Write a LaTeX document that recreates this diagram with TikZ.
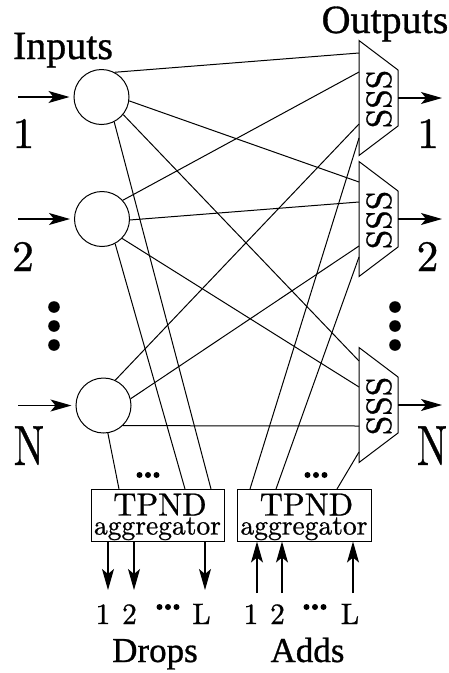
\documentclass[tikz,border=0pt]{standalone}
\usepackage{fontspec}
\newfontfamily\timesf[FakeBold=0.8]{Liberation Serif}
\newfontfamily\cmten[Extension=.otf,FakeBold=0.8]{lmroman10-regular}
\usetikzlibrary{arrows.meta}
\begin{document}
\begin{tikzpicture}[x=1pt,y=-1pt,
  wire/.style={line width=1pt},
  arr/.style={line width=1.2pt,-{Stealth[length=21pt,width=12pt,inset=5pt]}},
  circ/.style={circle,draw,line width=1pt,minimum size=55pt,inner sep=0pt},
  aggbox/.style={draw,line width=1pt,minimum height=52pt,inner sep=0pt},
  bigtitle/.style={font=\timesf\fontsize{40}{44}\selectfont,anchor=base,inner sep=0pt},
  subtitle/.style={font=\timesf\fontsize{35}{40}\selectfont,anchor=base,inner sep=0pt},
  sidelabel/.style={font=\cmten\fontsize{43.5}{48}\selectfont,anchor=base,inner sep=0pt},
  botlabel/.style={font=\cmten\fontsize{29.5}{33}\selectfont,anchor=base,inner sep=0pt},
  ssslabel/.style={font=\cmten\fontsize{35}{40}\selectfont,rotate=90,inner sep=0pt},
  tpnd/.style={font=\cmten\fontsize{32}{36}\selectfont,anchor=base,inner sep=0pt},
  aggr/.style={font=\cmten\fontsize{27.5}{30}\selectfont,anchor=base,inner sep=0pt}]
\useasboundingbox (0,0) rectangle (448,673);

% titles
\node[bigtitle] (tin) at (63,59) {Inputs};
\node[bigtitle] (tout) at (385,33) {Outputs};

% input circles
\node[circ] (c1) at (101.5,97) {};
\node[circ] (c2) at (102,219) {};
\node[circ] (cN) at (103.5,405.5) {};

% input arrows
\coordinate (in1) at (18,97);
\coordinate (in2) at (18,219);
\coordinate (inN) at (18,405.5);
\draw[arr,shorten >=4pt] (in1) -- (c1);
\draw[arr,shorten >=4pt] (in2) -- (c2);
\draw[arr,shorten >=4pt] (inN) -- (cN);

% input labels
\node[sidelabel] (l1) at (23.5,148) {1};
\node[sidelabel] (l2) at (23,271) {2};
\node[sidelabel] (lN) at (29,465) {\scalebox{0.93}[1.3]{N}};

% SSS trapezoids
\foreach \n/\y in {1/98,2/219,3/405}{
  \draw[wire] (359,\y-57.5) -- (398,\y-28) -- (398,\y+28) -- (359,\y+57.5) -- cycle;
  \node[ssslabel] (sss\n) at (379,\y+1) {SSS};
  \coordinate (so\n) at (398,\y);
  \coordinate (out\n) at (442,\y);
  \draw[arr] (so\n) -- (out\n);
}

% output labels
\node[sidelabel] (r1) at (428,148) {1};
\node[sidelabel] (r2) at (427.5,271) {2};
\node[sidelabel] (rN) at (432,465) {\scalebox{0.93}[1.3]{N}};

% vertical dots
\foreach \yy in {307,326,345}{
  \fill (54,\yy) circle (5.8pt);
  \fill (395,\yy) circle (5.8pt);
}

% SSS input ports
\coordinate (s1a) at (359,53);
\coordinate (s1b) at (359,72);
\coordinate (s1c) at (359,124);
\coordinate (s1d) at (359,138);
\coordinate (s2a) at (359,182);
\coordinate (s2b) at (359,202);
\coordinate (s2c) at (359,246);
\coordinate (s2d) at (359,257);
\coordinate (s3a) at (359,361);
\coordinate (s3b) at (359,387);
\coordinate (s3c) at (359,426);
\coordinate (s3d) at (359,452);

% aggregator boxes
\node[aggbox,minimum width=133pt] (dbox) at (157.5,515) {};
\node[aggbox,minimum width=134pt] (abox) at (304,515) {};
\node[tpnd] (dt) at (160,515.5) {TPND};
\node[aggr] (da) at (157.5,534.5) {aggregator};
\node[tpnd] (at) at (306.5,515.5) {TPND};
\node[aggr] (aa) at (304,534.5) {aggregator};

% box top ports
\coordinate (dpN) at (119,489);
\coordinate (dp2) at (185,489);
\coordinate (dp1) at (211,489);
\coordinate (ap1) at (250,489);
\coordinate (ap2) at (276,489);
\coordinate (ap3) at (337,489);

% circle to SSS connections
\draw[wire] (c1.62) -- (s1a);
\draw[wire] (c1.-8) -- (s2a);
\draw[wire] (c1.-39) -- (s3a);
\draw[wire] (c1.-63) -- (dp1);
\draw[wire] (c2.42) -- (s1b);
\draw[wire] (c2.-2) -- (s2b);
\draw[wire] (c2.-44) -- (s3b);
\draw[wire] (c2.-62) -- (dp2);
\draw[wire] (cN.65) -- (s1c);
\draw[wire] (cN.14) -- (s2c);
\draw[wire] (cN.-46) -- (s3c);
\draw[wire] (cN.-81) -- (dpN);
% SSS to add box
\draw[wire] (s1d) -- (ap1);
\draw[wire] (s2d) -- (ap2);
\draw[wire] (s3d) -- (ap3);

% small dots above boxes
\foreach \xx in {139.5,148,156.5}{\fill (\xx,475) circle (3pt);}
\foreach \xx in {307.5,316,324.5}{\fill (\xx,475) circle (3pt);}

% drop arrows
\coordinate (dl1) at (108,590);
\coordinate (dl2) at (134,590);
\coordinate (dlL) at (205,590);
\draw[arr] (dbox.south -| dl1) -- (dl1);
\draw[arr] (dbox.south -| dl2) -- (dl2);
\draw[arr] (dbox.south -| dlL) -- (dlL);

% add arrows
\coordinate (al1) at (257,593);
\coordinate (al2) at (282,593);
\coordinate (alL) at (353,593);
\draw[arr] (al1) -- (abox.south -| al1);
\draw[arr] (al2) -- (abox.south -| al2);
\draw[arr] (alL) -- (abox.south -| alL);

% bottom labels
\node[botlabel] (d1) at (103,624) {1};
\node[botlabel] (d2) at (129.5,624) {2};
\node[botlabel] (dL) at (201.5,624) {L};
\foreach \xx in {159.5,168,176.5}{\fill (\xx,607) circle (3pt);}
\node[botlabel] (a1) at (251,624) {1};
\node[botlabel] (a2) at (277.5,624) {2};
\node[botlabel] (aL) at (350,624) {L};
\foreach \xx in {306.5,315,323.5}{\fill (\xx,607) circle (3pt);}

\node[subtitle] (drops) at (155,662) {Drops};
\node[subtitle] (adds) at (307.5,662) {Adds};
\end{tikzpicture}
\end{document}
